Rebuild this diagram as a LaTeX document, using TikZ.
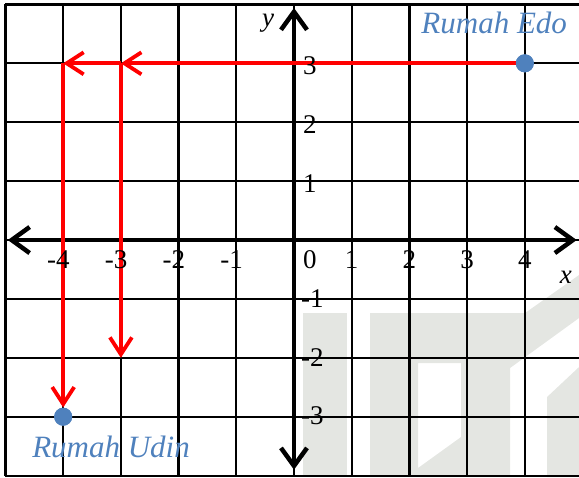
\documentclass[tikz,border=0pt]{standalone}
\usepackage{fontspec}
\setmainfont{Liberation Serif}
\usepackage{tikz}
\usetikzlibrary{arrows.meta,calc,positioning}
\usepackage{xcolor}
\definecolor{MapRed}{HTML}{FF0000}
\definecolor{MapBlue}{HTML}{4F81BD}
\definecolor{MapMark}{HTML}{E4E6E2}

\begin{document}
\begin{tikzpicture}[
  x=57.7pt,
  y=58.9pt,
  gridline/.style={
    draw=black,
    line width=2.2pt,
    step=1
  },
  axis/.style={
    draw=black,
    line width=4.5pt,
    {Straight Barb[length=18pt,width=26pt]}-{Straight Barb[length=18pt,width=26pt]}
  },
  route/.style={
    draw=MapRed,
    line width=3.8pt,
    -{Straight Barb[length=17pt,width=22pt]}
  },
  house/.style={
    circle,
    fill=MapBlue,
    minimum size=18pt,
    inner sep=0pt
  },
  housename/.style={
    anchor=base,
    inner sep=0pt,
    font=\fontsize{31}{31}\selectfont\itshape,
    text=MapBlue
  },
  ticklabel/.style={
    inner sep=0pt,
    font=\fontsize{27}{27}\selectfont
  },
  axisname/.style={
    anchor=base,
    inner sep=0pt,
    font=\fontsize{27}{27}\selectfont\itshape
  }
]

\useasboundingbox (-5.095,-4.024) rectangle (4.939,4.075);
\clip (-5.095,-4.024) rectangle (4.939,4.075);

\begin{scope}[x=1pt,y=-1pt,shift={(-294pt,240pt)}]
  \fill[MapMark] (303,313) rectangle (347,477);
  \fill[MapMark,even odd rule] (370,477) -- (370,313) -- (525,313) -- (579,275)
    -- (579,318) -- (510,368) -- (510,477) -- cycle
    (418,363) -- (461,363) -- (461,437) -- (418,468) -- cycle;
  \fill[MapMark] (547,477) -- (547,397) -- (579,367) -- (579,477) -- cycle;
\end{scope}

\draw[gridline] (-5,-4) grid (5,4);

\coordinate (xleft) at (-4.96,0);
\coordinate (xright) at (4.90,0);
\coordinate (ytop) at (0,3.94);
\coordinate (ybottom) at (0,-3.90);
\draw[axis] (xleft) -- (xright);
\draw[axis] (ybottom) -- (ytop);

\node[house] (edo) at (4,3) {};
\node[house] (udin) at (-4,-3) {};
\coordinate (turn3) at (-3,3);
\coordinate (turn4) at (-4,3);
\coordinate (stop3) at (-3,-2);

\draw[route] (edo) -- (turn3);
\draw[route] (turn3) -- (turn4);
\draw[route] (turn3) -- (stop3);
\draw[route] (turn4) -- (udin);

\node[house] at (edo) {};
\node[house] at (udin) {};

\node[housename] (edoname) at (3.47,3.51) {Rumah Edo};
\node[housename] (udinname) at (-3.17,-3.70) {Rumah Udin};

\foreach \k in {-4,-3,-2,-1} {
  \node[ticklabel,anchor=base east] (xn\k) at (\k+0.117,-0.475) {\k};
}
\node[ticklabel,anchor=base] (zero) at (0.277,-0.475) {0};
\foreach \k in {1,...,4} {
  \node[ticklabel,anchor=base] (xp\k) at (\k,-0.475) {\k};
}
\foreach \k in {1,2,3} {
  \node[ticklabel,anchor=base] (yp\k) at (0.277,\k-0.19) {\k};
}
\foreach \k in {-1,-2,-3} {
  \node[ticklabel,anchor=base west] (yn\k) at (0.12,\k-0.14) {\k};
}

\node[axisname] (xname) at (4.71,-0.73) {x};
\node[axisname] (yname) at (-0.45,3.62) {y};

\end{tikzpicture}
\end{document}
